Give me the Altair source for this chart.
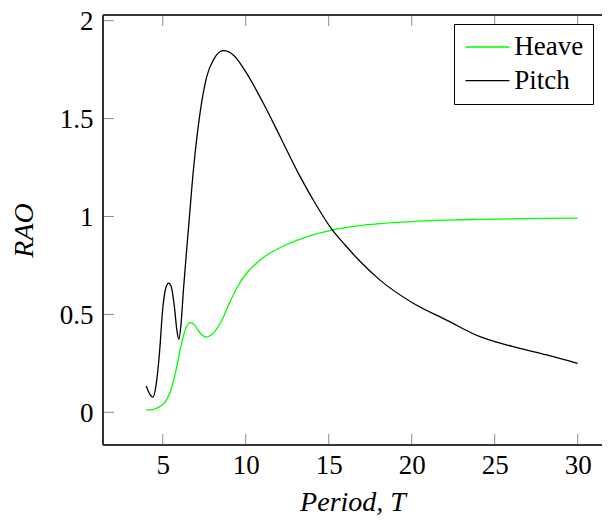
import altair as alt
import pandas as pd

# ---- data ----
heave_T = [4.0, 4.3, 4.6, 4.9, 5.2, 5.5, 5.8, 6.1, 6.4, 6.65, 6.9, 7.2, 7.6, 8.0, 8.5,
           9.0, 9.5, 10.0, 10.5, 11.0, 11.5, 12.0, 13.0, 14.0, 15.0, 16.0, 17.0, 18.0,
           20.0, 22.0, 24.0, 26.0, 28.0, 30.0]
heave_rao = [0.012, 0.012, 0.02, 0.033, 0.06, 0.115, 0.215, 0.34, 0.43, 0.458, 0.448,
             0.41, 0.384, 0.4, 0.46, 0.555, 0.64, 0.705, 0.75, 0.787, 0.815, 0.838,
             0.875, 0.905, 0.927, 0.943, 0.955, 0.963, 0.974, 0.981, 0.985, 0.988,
             0.99, 0.992]

pitch_T = [4.0, 4.2, 4.4, 4.6, 4.8, 5.0, 5.2, 5.35, 5.5, 5.7, 5.85, 5.97, 6.1, 6.25,
           6.45, 6.55, 6.85, 7.25, 7.65, 8.05, 8.65, 9.25, 10.06, 11.06, 12.06, 13.27,
           14.2, 15.18, 16.0, 16.78, 18.09, 20.09, 22.1, 24.11, 26.12, 28.13, 30.0]
pitch_rao = [0.134, 0.095, 0.077, 0.14, 0.3, 0.53, 0.64, 0.66, 0.645, 0.54, 0.42, 0.372,
             0.45, 0.63, 0.84, 0.94, 1.24, 1.53, 1.714, 1.8, 1.847, 1.825, 1.731, 1.578,
             1.41, 1.205, 1.065, 0.935, 0.853, 0.78, 0.675, 0.557, 0.471, 0.386, 0.335,
             0.293, 0.25]

series_names = ["Heave", "Pitch"]
series_colors = ["#00ff00", "#000000"]
x_ticks = [5, 10, 15, 20, 25, 30]
y_ticks = [0, 0.5, 1, 1.5, 2]

df = pd.concat([
    pd.DataFrame({"T": heave_T, "RAO": heave_rao, "series": "Heave"}),
    pd.DataFrame({"T": pitch_T, "RAO": pitch_rao, "series": "Pitch"}),
])
xt = pd.DataFrame({"T": x_ticks})
yt = pd.DataFrame({"RAO": y_ticks})

W, H = 499, 430
TL = 11
FONT = "'Liberation Serif', 'DejaVu Serif', serif"
TICK_COLOR = "#8a8a8a"
FRAME_COLOR = "#333333"

xs = alt.Scale(domain=[1.4, 31.464], nice=False, zero=False)
ys = alt.Scale(domain=[-0.167, 2.029], nice=False, zero=False)

x_axis = alt.Axis(values=x_ticks, title="Period, T", titleFontStyle="italic",
                  titleFont=FONT, titleFontSize=28, titleFontWeight="normal",
                  titlePadding=10, labelFont=FONT, labelFontSize=27,
                  labelPadding=7, ticks=False, domain=False, grid=False,
                  labelColor="black", titleColor="black")
y_axis = alt.Axis(values=y_ticks, format="~g", title="RAO", titleFontStyle="italic",
                  titleFont=FONT, titleFontSize=28, titleFontWeight="normal",
                  titlePadding=20.5, labelFont=FONT, labelFontSize=27,
                  labelBaseline="alphabetic", labelOffset=9.2,
                  labelPadding=10, ticks=False, domain=False, grid=False,
                  labelColor="black", titleColor="black")

lines = alt.Chart(df).mark_line(strokeWidth=1.3, interpolate="monotone", clip=True).encode(
    x=alt.X("T:Q", scale=xs, axis=x_axis),
    y=alt.Y("RAO:Q", scale=ys, axis=y_axis),
    color=alt.Color(
        "series:N",
        scale=alt.Scale(domain=series_names, range=series_colors),
        legend=alt.Legend(
            title=None, orient="none", legendX=351, legendY=9,
            symbolType="M-3,0H3", symbolSize=215, symbolStrokeWidth=1.3,
            symbolOffset=10.5, labelFont=FONT, labelFontSize=27,
            labelColor="black", labelOffset=13.2, rowPadding=5.6, padding=9.5,
            strokeColor="black", fillColor="white",
        ),
    ),
)

tick_bottom = alt.Chart(xt).mark_rule(color=TICK_COLOR, strokeWidth=1).encode(
    x=alt.X("T:Q", scale=xs), y=alt.value(H), y2=alt.value(H - TL))
tick_top = alt.Chart(xt).mark_rule(color=TICK_COLOR, strokeWidth=1).encode(
    x=alt.X("T:Q", scale=xs), y=alt.value(0), y2=alt.value(TL))
tick_left = alt.Chart(yt).mark_rule(color=TICK_COLOR, strokeWidth=1).encode(
    y=alt.Y("RAO:Q", scale=ys), x=alt.value(0), x2=alt.value(TL))

frame_left = alt.Chart(xt).mark_rule(color=FRAME_COLOR, strokeWidth=1.2).encode(
    x=alt.value(0), y=alt.value(0), y2=alt.value(H))
frame_top = alt.Chart(xt).mark_rule(color=FRAME_COLOR, strokeWidth=1.2).encode(
    y=alt.value(0), x=alt.value(0), x2=alt.value(W))
frame_bottom = alt.Chart(xt).mark_rule(color=FRAME_COLOR, strokeWidth=1.2).encode(
    y=alt.value(H), x=alt.value(0), x2=alt.value(W))

chart = alt.layer(tick_bottom, tick_top, tick_left, frame_left, frame_top,
                  frame_bottom, lines).properties(
    width=W, height=H,
    autosize=alt.AutoSizeParams(type="none"),
    padding={"left": 95, "top": 7, "right": 0, "bottom": 70},
).configure_view(stroke=None)

chart.save("out.html", embed_options={"renderer": "svg", "actions": False})
